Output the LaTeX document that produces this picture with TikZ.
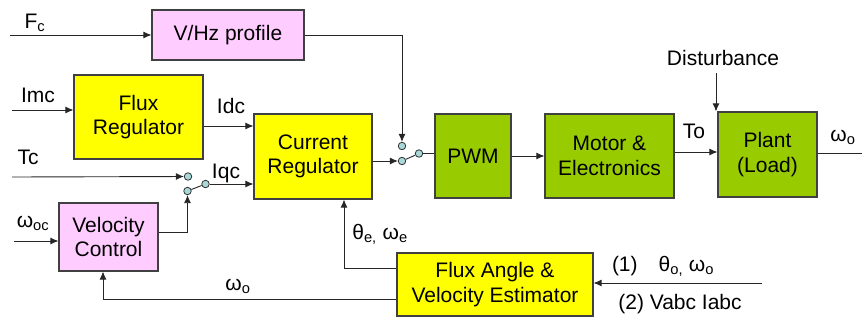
\documentclass[tikz,border=0pt]{standalone}
\usepackage{fontspec}
\setmainfont{Liberation Sans}
\usetikzlibrary{arrows.meta,positioning}

\definecolor{pinkbox}{HTML}{FFCCFF}
\definecolor{yellowbox}{HTML}{FFFF00}
\definecolor{greenbox}{HTML}{99CC00}
\definecolor{contactfill}{HTML}{A8D8D8}

\tikzset{
  block/.style={draw=black!75,line width=1.1pt,align=center,inner sep=0pt,
    font=\fontsize{21}{24.5}\selectfont},
  pinkblock/.style={block,fill=pinkbox},
  yellowblock/.style={block,fill=yellowbox},
  greenblock/.style={block,fill=greenbox},
  contact/.style={circle,draw=black!80,fill=contactfill,line width=0.8pt,
    inner sep=0pt,minimum size=7.5pt},
  sig/.style={font=\fontsize{21}{24.5}\selectfont,inner sep=0pt},
  wire/.style={line width=0.9pt,draw=black!85}
}

\begin{document}
\begin{tikzpicture}[x=1pt,y=-1pt,>={Latex[length=8pt,width=7pt]}]
        \useasboundingbox (0,0) rectangle (862,322);
        \node[pinkblock,minimum width=152pt,minimum height=50pt] (vhz) at (228,35) {V/Hz profile};
        \node[yellowblock,minimum width=129pt,minimum height=84pt] (flux) at (138.5,117) {Flux\\Regulator};
        \node[yellowblock,minimum width=118pt,minimum height=85pt] (curreg) at (313,156.5) {Current\\Regulator};
        \node[pinkblock,minimum width=99pt,minimum height=68pt] (velctl) at (108.5,237) {Velocity\\Control};
        \node[yellowblock,minimum width=196pt,minimum height=63pt] (est) at (495,284.5) {Flux Angle \&\\Velocity Estimator};
        \node[greenblock,minimum width=76pt,minimum height=84pt] (pwm) at (473,156) {PWM};
        \node[greenblock,minimum width=129pt,minimum height=84pt] (motor) at (609.5,156) {Motor \&\\Electronics};
        \node[greenblock,minimum width=99pt,minimum height=85pt] (plant) at (767.5,154.5) {Plant\\(Load)};

        \node[contact] (swqa) at (188,176.5) {};
        \node[contact] (swqb) at (187.5,191) {};
        \node[contact] (swqc) at (205.5,184) {};
        \node[contact] (swpa) at (402,146) {};
        \node[contact] (swpb) at (402,161) {};
        \node[contact] (swpc) at (419,153.5) {};

        \coordinate (fcin) at (10,35);
        \coordinate (imcin) at (12,110);
        \coordinate (tcin) at (12,177);
        \coordinate (wocin) at (14,241);
        \coordinate (estin) at (762,283);
        \coordinate (distop) at (716,73);
        \coordinate (plout) at (862,153);

        \draw[wire,->] (fcin) -- (vhz);
        \draw[wire,->] (imcin) -- (flux.west |- imcin);
        \draw[wire,->] (flux.east |- 0,126) -- (curreg.west |- 0,126);
        \draw[wire,->] (tcin) -- (swqa);
        \draw[wire] (swqb) -- (swqc);
        \draw[wire,->] (swqc) -- (curreg.west |- swqc);
        \draw[wire,->] ([yshift=5pt]velctl.east) -| (swqb);
        \draw[wire,->] (wocin) -- (velctl.west |- wocin);
        \draw[wire,->] (est.west |- 0,268) -| ([xshift=31pt]curreg.south);
        \draw[wire,->] (est.west |- 0,299) -| ([xshift=-5.5pt]velctl.south);
        \draw[wire,->] (estin) -- (est.east |- estin);
        \draw[wire,->] (vhz.east) -| (swpa);
        \draw[wire,->] (curreg.east |- swpb) -- (swpb);
        \draw[wire] (swpb) -- (swpc);
        \draw[wire] (swpc) -- (pwm.west |- swpc);
        \draw[wire,->] (pwm) -- (motor);
        \draw[wire,->] (motor.east |- 0,152) -- (plant.west |- 0,152);
        \draw[wire,->] (distop) -- (distop |- plant.north);
        \draw[wire] (plant.east |- plout) -- (plout);

        \node[sig] (fclbl) at (35,23) {F\textsubscript{c}};
        \node[sig] (imclbl) at (38,95) {Imc};
        \node[sig] (idclbl) at (231,106) {Idc};
        \node[sig] (tclbl) at (28,157) {Tc};
        \node[sig] (iqclbl) at (226,173) {Iqc};
        \node[sig] (woclbl) at (33,223) {ω\textsubscript{oc}};
        \node[sig] (thelbl) at (380,234) {θ\textsubscript{e,} ω\textsubscript{e}};
        \node[sig] (wofblbl) at (238,286) {ω\textsubscript{o}};
        \node[sig] (in1lbl) at (663,266) {(1)\quad θ\textsubscript{o,} ω\textsubscript{o}};
        \node[sig] (in2lbl) at (680,304) {(2) Vabc Iabc};
        \node[sig] (tolbl) at (694,131) {To};
        \node[sig] (distlbl) at (723,58) {Disturbance};
        \node[sig] (wolbl) at (843,137) {ω\textsubscript{o}};
      \end{tikzpicture}
\end{document}
